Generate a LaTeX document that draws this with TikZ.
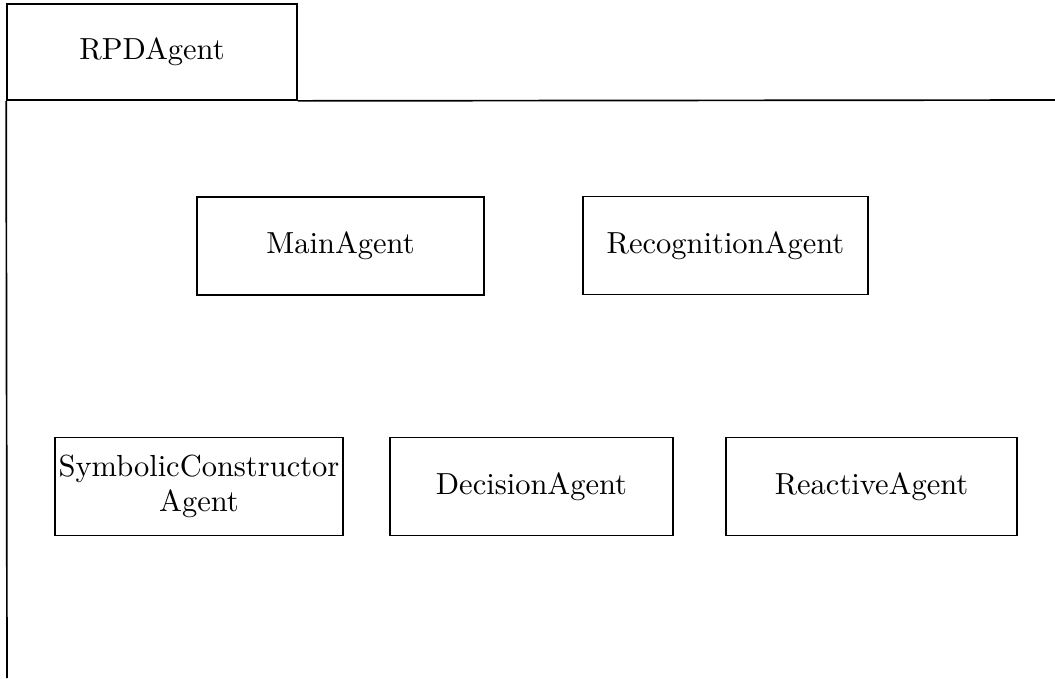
\documentclass[tikz,border=0pt]{standalone}
\begin{document}
\begin{tikzpicture}[x=0.328pt,y=-0.328pt,
  every node/.style={font=\fontsize{10}{11.5}\selectfont},
  frame/.style={draw, line width=0.55pt},
  agentbox/.style={frame, rectangle, inner sep=0pt, align=center,
    minimum height=98*0.328pt, minimum width=#1*0.328pt}]
  \useasboundingbox (0,0) rectangle (1055,678);

  % package tab and the open package body
  \node[agentbox=290, minimum height=96*0.328pt] (pkg) at (152,52) {RPDAgent};
  \coordinate (bodyright) at (1055,100);
  \coordinate (bodybottom) at (7,678);
  \draw[line width=0.55pt] (pkg.south east) -- (bodyright);
  \draw[line width=0.55pt] (pkg.south west) -- (bodybottom);

  % contained agents
  \node[agentbox=287] (main)  at (340.5,246) {MainAgent};
  \node[agentbox=285] (recog) at (725.5,245.5) {RecognitionAgent};
  \node[agentbox=288] (sym)   at (199,486.5) {SymbolicConstructor\\Agent};
  \node[agentbox=283] (dec)   at (531.5,486.5) {DecisionAgent};
  \node[agentbox=291] (react) at (871.5,486.5) {ReactiveAgent};
\end{tikzpicture}
\end{document}
